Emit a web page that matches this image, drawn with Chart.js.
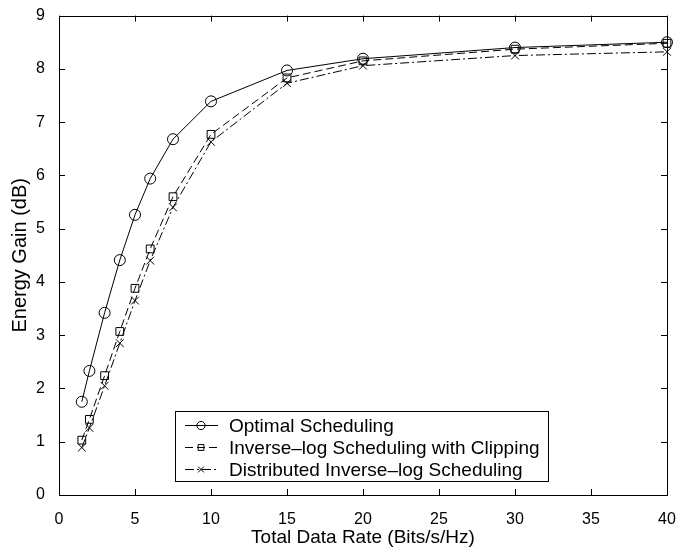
<!DOCTYPE html>
<html>
<head>
<meta charset="utf-8">
<script src="https://cdn.jsdelivr.net/npm/chart.js@4.4.0/dist/chart.umd.min.js"></script>
<style>
  html, body { margin: 0; padding: 0; background: #fff; }
</style>
</head>
<body>
<canvas id="gainChart" width="692" height="551"></canvas>
<script>
// total data rate (bits/s/Hz) and energy gain (dB) of each scheduler
const rates = [1.5, 2, 3, 4, 5, 6, 7.5, 10, 15, 20, 30, 40];
const optimalGain = [1.75, 2.33, 3.42, 4.41, 5.26, 5.94, 6.68, 7.39, 7.97, 8.19, 8.40, 8.50];
const clippedGain = [1.03, 1.42, 2.24, 3.07, 3.88, 4.62, 5.60, 6.77, 7.83, 8.15, 8.37, 8.48];
const distributedGain = [0.89, 1.26, 2.05, 2.85, 3.65, 4.40, 5.40, 6.63, 7.73, 8.06, 8.25, 8.32];
const seriesNames = [
    'Optimal Scheduling',
    'Inverse\u2013log Scheduling with Clipping',
    'Distributed Inverse\u2013log Scheduling'
];
const xTicks = [0, 5, 10, 15, 20, 25, 30, 35, 40];
const yTicks = [0, 1, 2, 3, 4, 5, 6, 7, 8, 9];

const FONT = 'Liberation Sans, Arial, Helvetica, sans-serif';

function toPoints(ys) {
    return rates.map((x, i) => ({ x: x, y: ys[i] }));
}

// box around the axes with inward tick marks on all four sides
const boxPlugin = {
    id: 'boxAxes',
    afterDatasetsDraw(chart) {
        const ctx = chart.ctx;
        const a = chart.chartArea;
        const xs = chart.scales.x, ys = chart.scales.y;
        const len = 6;
        ctx.save();
        ctx.strokeStyle = '#000';
        ctx.lineWidth = 1;
        ctx.strokeRect(Math.round(a.left) + 0.5, Math.round(a.top) + 0.5,
            Math.round(a.right - a.left), Math.round(a.bottom - a.top));
        ctx.beginPath();
        xTicks.forEach(v => {
            const px = Math.round(xs.getPixelForValue(v)) + 0.5;
            ctx.moveTo(px, a.bottom); ctx.lineTo(px, a.bottom - len);
            ctx.moveTo(px, a.top); ctx.lineTo(px, a.top + len);
        });
        yTicks.forEach(v => {
            const py = Math.round(ys.getPixelForValue(v)) + 0.5;
            ctx.moveTo(a.left, py); ctx.lineTo(a.left + len, py);
            ctx.moveTo(a.right, py); ctx.lineTo(a.right - len, py);
        });
        ctx.stroke();
        ctx.restore();
    }
};

// legend box in the lower part of the plot, line sample + marker per row
const legendPlugin = {
    id: 'boxLegend',
    afterDraw(chart) {
        const ctx = chart.ctx;
        const a = chart.chartArea;
        const left = Math.round(a.left) + 116, top = Math.round(a.bottom) - 84;
        const textX = 54, rowH = 22;
        ctx.save();
        ctx.font = '19px ' + FONT;
        const widest = Math.max(...chart.data.datasets.map(ds => ctx.measureText(ds.label).width));
        const w = Math.round(textX + widest + 8), h = 70;
        ctx.fillStyle = '#fff';
        ctx.fillRect(left, top, w, h);
        ctx.strokeStyle = '#000';
        ctx.lineWidth = 1;
        ctx.strokeRect(left + 0.5, top + 0.5, w, h);
        ctx.textBaseline = 'middle';
        chart.data.datasets.forEach((ds, i) => {
            const y = top + 14.5 + i * rowH;
            ctx.strokeStyle = '#000';
            ctx.setLineDash(ds.borderDash || []);
            ctx.beginPath();
            ctx.moveTo(left + 10, y); ctx.lineTo(left + 43, y);
            ctx.stroke();
            ctx.setLineDash([]);
            ctx.fillStyle = 'rgba(0,0,0,0)';
            Chart.helpers.drawPoint(ctx, {
                pointStyle: ds.pointStyle,
                radius: ds.pointRadius * 0.75,
                borderWidth: 1
            }, left + 26, y);
            ctx.fillStyle = '#000';
            ctx.fillText(ds.label, left + textX, y + 1);
        });
        ctx.restore();
    }
};

const common = {
    borderColor: '#000',
    backgroundColor: 'rgba(0,0,0,0)',
    pointBorderColor: '#000',
    pointBackgroundColor: 'rgba(0,0,0,0)',
    borderWidth: 1,
    pointBorderWidth: 1,
    tension: 0,
    fill: false,
    clip: false
};

new Chart(document.getElementById('gainChart'), {
    type: 'line',
    data: {
        datasets: [
            Object.assign({}, common, {
                label: seriesNames[0],
                data: toPoints(optimalGain),
                pointStyle: 'circle',
                pointRadius: 5.5
            }),
            Object.assign({}, common, {
                label: seriesNames[1],
                data: toPoints(clippedGain),
                borderDash: [8, 4],
                pointStyle: 'rect',
                pointRadius: 5.5
            }),
            Object.assign({}, common, {
                label: seriesNames[2],
                data: toPoints(distributedGain),
                borderDash: [9, 3, 2, 3],
                pointStyle: 'crossRot',
                pointRadius: 5.5
            })
        ]
    },
    options: {
        responsive: false,
        animation: false,
        layout: { padding: { left: 0, right: 25, top: 13, bottom: 0 } },
        plugins: {
            legend: { display: false },
            tooltip: { enabled: false }
        },
        scales: {
            x: {
                type: 'linear',
                min: 0,
                max: 40,
                afterBuildTicks: s => { s.ticks = xTicks.map(v => ({ value: v })); },
                afterFit: s => { s.height = 56; },
                grid: { display: false },
                border: { display: false },
                ticks: { color: '#000', padding: 7, font: { family: FONT, size: 16 } },
                title: {
                    display: true,
                    text: 'Total Data Rate (Bits/s/Hz)',
                    color: '#000',
                    padding: { top: 0, bottom: 2 },
                    font: { family: FONT, size: 19 }
                }
            },
            y: {
                min: 0,
                max: 9,
                afterBuildTicks: s => { s.ticks = yTicks.map(v => ({ value: v })); },
                afterFit: s => { s.width = 59; },
                grid: { display: false },
                border: { display: false },
                ticks: { color: '#000', padding: 6, font: { family: FONT, size: 16 } },
                title: {
                    display: true,
                    text: 'Energy Gain (dB)',
                    color: '#000',
                    padding: { top: 8, bottom: 0 },
                    font: { family: FONT, size: 20 }
                }
            }
        }
    },
    plugins: [boxPlugin, legendPlugin]
});
</script>
</body>
</html>
